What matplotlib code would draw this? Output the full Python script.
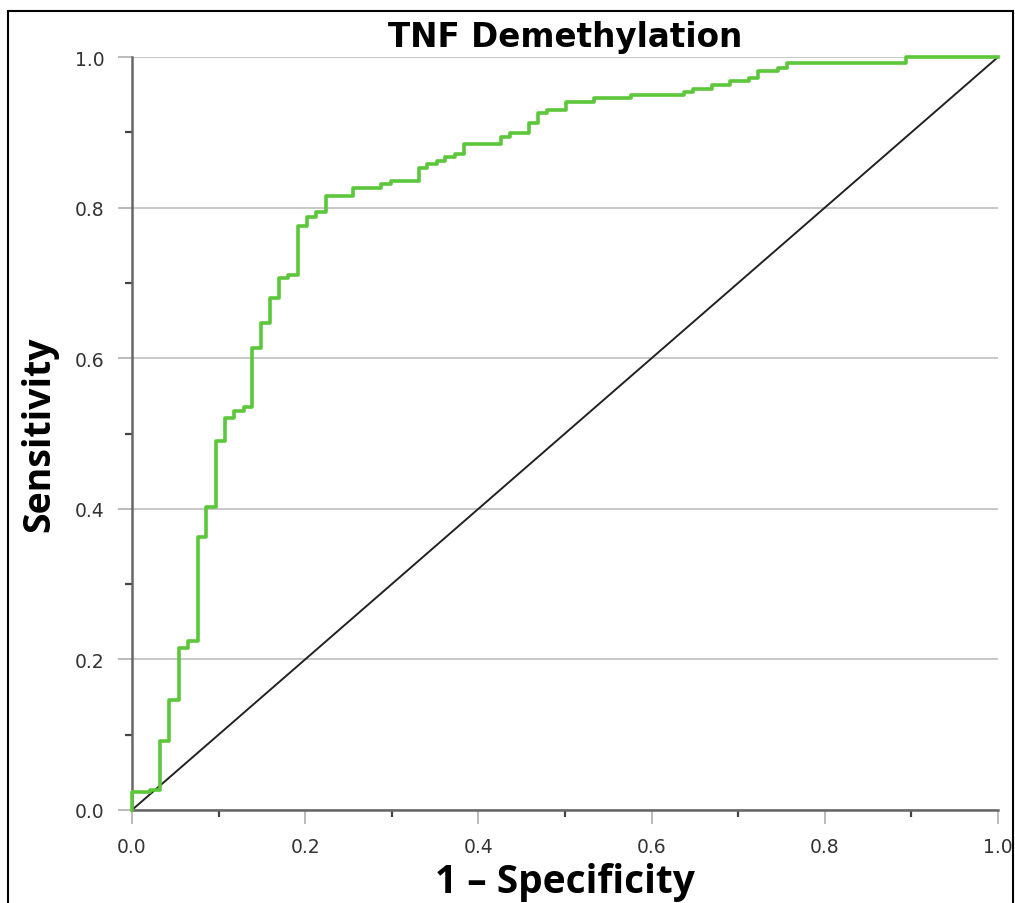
import matplotlib
matplotlib.use("Agg")
import matplotlib.pyplot as plt
from matplotlib.patches import Rectangle
from matplotlib.ticker import MultipleLocator

# ROC corner points (1 - specificity, sensitivity)
fpr = [0.0, 0.0, 0.021, 0.032, 0.043, 0.054, 0.065, 0.076, 0.086, 0.097,
       0.107, 0.118, 0.129, 0.139, 0.149, 0.159, 0.170, 0.180, 0.192, 0.2025,
       0.213, 0.224, 0.2555, 0.288, 0.299, 0.331, 0.341, 0.352, 0.362, 0.373,
       0.383, 0.426, 0.437, 0.458, 0.469, 0.479, 0.501, 0.533, 0.576, 0.637,
       0.648, 0.670, 0.691, 0.713, 0.723, 0.746, 0.756, 0.894, 1.0]
tpr = [0.0, 0.024, 0.027, 0.092, 0.146, 0.215, 0.225, 0.362, 0.403, 0.490,
       0.521, 0.530, 0.535, 0.614, 0.647, 0.680, 0.706, 0.711, 0.776, 0.788,
       0.794, 0.816, 0.826, 0.831, 0.835, 0.853, 0.858, 0.862, 0.867, 0.871,
       0.885, 0.894, 0.899, 0.912, 0.926, 0.930, 0.940, 0.945, 0.9495, 0.954,
       0.958, 0.963, 0.968, 0.972, 0.982, 0.985, 0.992, 1.0, 1.0]

ref_x = [0.0, 1.0]
ref_y = [0.0, 1.0]

title = "TNF Demethylation"
xlabel = "1 – Specificity"
ylabel = "Sensitivity"

fig = plt.figure(figsize=(10.15, 9.04), dpi=100)
ax = fig.add_axes([0.130, 0.1029, 0.8533, 0.8329])

# rahmen um das ganze bild
fig.patches.append(Rectangle((0.0075, -0.05), 0.9905, 1.037, transform=fig.transFigure,
                             fill=False, edgecolor="black", linewidth=1.5))

ax.plot(ref_x, ref_y, color="#222222", linewidth=1.4, zorder=2)
ax.plot(fpr, tpr, drawstyle="steps-post", color="#5cc73a", linewidth=2.6,
        clip_on=False, zorder=3)

ax.set_xlim(0, 1)
ax.set_ylim(0, 1)

ax.xaxis.set_major_locator(MultipleLocator(0.2))
ax.xaxis.set_minor_locator(MultipleLocator(0.1))
ax.yaxis.set_major_locator(MultipleLocator(0.2))
ax.yaxis.set_minor_locator(MultipleLocator(0.1))
ax.set_xticklabels([f"{v:.1f}" for v in ax.get_xticks()])
ax.set_yticklabels([f"{v:.1f}" for v in ax.get_yticks()])

ax.yaxis.grid(True, which="major", color="#c8c8c8", linewidth=1.4)
ax.set_axisbelow(True)

for s in ["top", "right"]:
    ax.spines[s].set_visible(False)
for s in ["left", "bottom"]:
    ax.spines[s].set_color("#666666")
    ax.spines[s].set_linewidth(1.8)

ax.tick_params(which="major", direction="out", length=10, width=1.4,
               color="#bbbbbb", labelsize=13.5, labelcolor="#333333", pad=9.5)
ax.tick_params(which="minor", direction="out", length=5, width=1.6,
               color="#444444")

ax.set_title(title, fontsize=23.5, fontweight="bold", family="DejaVu Sans", pad=8)
ax.set_xlabel(xlabel, fontsize=28, fontweight="bold", family="Open Sans", labelpad=4)
ax.set_ylabel(ylabel, fontsize=27, fontweight="bold", family="Open Sans", labelpad=12)

fig.savefig("out.png", dpi=100)
